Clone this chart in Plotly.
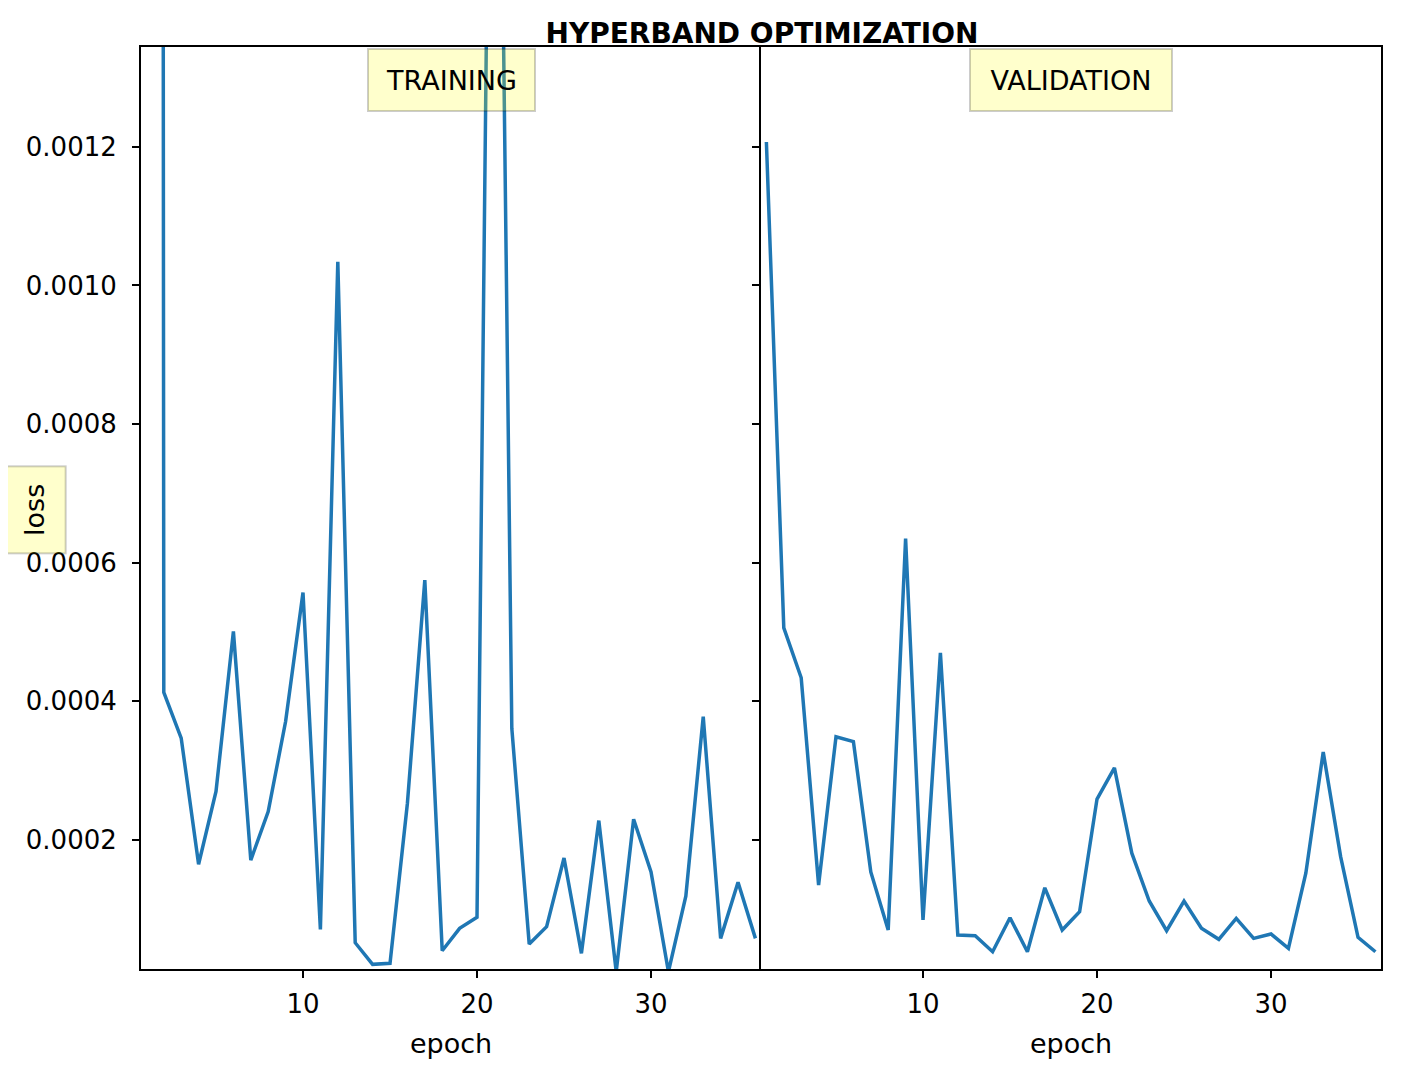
import plotly.graph_objects as go

# epochs shown on both panels
epochs = list(range(1, 37))

# training loss per epoch (first and 21st go off the top of the axis)
train_loss = [0.031, 0.000413, 0.000347, 0.000165, 0.000270, 0.000501, 0.000171, 0.000241,
              0.000371, 0.000557, 0.0000711, 0.001034, 0.0000518, 0.0000206, 0.0000221, 0.000253,
              0.000575, 0.0000403, 0.0000726, 0.0000885, 0.00245, 0.000361, 0.0000499, 0.0000749,
              0.000174, 0.0000365, 0.000228, 0.000010, 0.000230, 0.000154, 0.000010, 0.000119,
              0.000378, 0.0000581, 0.000139, 0.0000581]

# validation loss per epoch
val_loss = [0.001207, 0.000506, 0.000434, 0.000135, 0.000349, 0.000342, 0.000154, 0.0000701,
            0.000635, 0.0000846, 0.000470, 0.0000629, 0.0000619, 0.0000388, 0.0000879, 0.0000388,
            0.000131, 0.0000701, 0.0000965, 0.000259, 0.000304, 0.000181, 0.000112, 0.0000691,
            0.000112, 0.0000726, 0.0000567, 0.0000870, 0.0000581, 0.0000644, 0.0000437, 0.000152,
            0.000327, 0.000176, 0.0000596, 0.0000388]

y_ticks = [0.0002, 0.0004, 0.0006, 0.0008, 0.0010, 0.0012]
x_ticks = [10, 20, 30]

FONT = "DejaVu Sans"
BLUE = "#1f77b4"
BOX_BG = "rgba(255,255,0,0.2)"
BOX_EDGE = "rgba(0,0,0,0.2)"

fig = go.Figure()
fig.add_trace(go.Scatter(x=epochs, y=train_loss, mode="lines",
                         line=dict(color=BLUE, width=3.5), xaxis="x", yaxis="y"))
fig.add_trace(go.Scatter(x=epochs, y=val_loss, mode="lines",
                         line=dict(color=BLUE, width=3.5), xaxis="x2", yaxis="y2"))

axis_common = dict(showline=True, linecolor="black", linewidth=2,
                   ticks="outside", ticklen=7, tickwidth=2, tickcolor="black",
                   showgrid=False, zeroline=False,
                   tickfont=dict(family=FONT, size=26, color="black"))

xr = [0.69, 36.32]
yr = [0.0000139, 0.001344]

# page has an 8px body margin, so the figure is laid out 8px up/left
W, H = 1401, 1078
fig.update_layout(
    width=W, height=H,
    paper_bgcolor="white", plot_bgcolor="white",
    showlegend=False,
    margin=dict(l=133, r=28, t=39, b=117),
    font=dict(family=FONT, color="black"),
    title=dict(text="<b>HYPERBAND OPTIMIZATION</b>", x=754 / W, xanchor="center",
               y=1 - 25 / H, yanchor="middle", font=dict(family=FONT, size=28)),
    xaxis=dict(domain=[0, 0.5], range=xr, tickvals=x_ticks, anchor="y", mirror=True,
               ticklabelstandoff=4, **axis_common),
    xaxis2=dict(domain=[0.5, 1], range=xr, tickvals=x_ticks, anchor="y2", mirror=True,
                ticklabelstandoff=4, **axis_common),
    yaxis=dict(domain=[0, 1], range=yr, tickvals=y_ticks, tickformat=".4f", anchor="x",
               mirror=False, ticklabelstandoff=10, **axis_common),
    yaxis2=dict(domain=[0, 1], range=yr, tickvals=y_ticks, showticklabels=False,
                anchor="x2", mirror=True, **axis_common),
)

box = dict(showarrow=False, bgcolor=BOX_BG, bordercolor=BOX_EDGE, borderwidth=2,
           borderpad=0, font=dict(family=FONT, size=27, color="black"))

fig.add_annotation(text="TRAINING", xref="paper", yref="paper", x=0.25, y=0.999,
                   xanchor="center", yanchor="top", width=165, height=60, **box)
fig.add_annotation(text="VALIDATION", xref="paper", yref="paper", x=0.75, y=0.999,
                   xanchor="center", yanchor="top", width=200, height=60, **box)
fig.add_annotation(text="loss", xref="paper", yref="paper", x=(34.5 - 141) / 1240, y=0.498,
                   xanchor="center", yanchor="middle", textangle=-90, width=85, height=60, **box)

for xc in (0.25, 0.75):
    fig.add_annotation(text="epoch", xref="paper", yref="paper", x=xc, y=(969 - 1043) / 922,
                       xanchor="center", yanchor="middle", showarrow=False,
                       font=dict(family=FONT, size=27, color="black"))

fig.write_html("out.html")
